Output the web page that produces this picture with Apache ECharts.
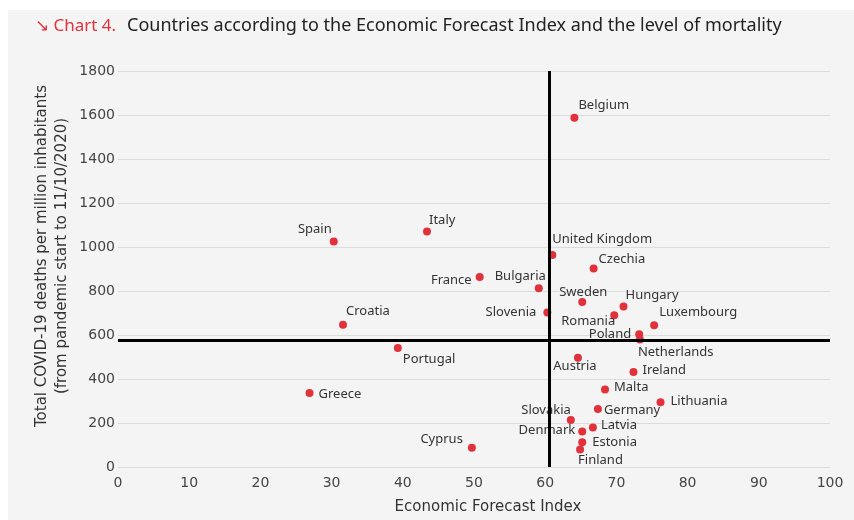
<!DOCTYPE html>
<html>
<head>
<meta charset="utf-8">
<title>Chart 4</title>
<script src="https://cdn.jsdelivr.net/npm/echarts@6/dist/echarts.min.js"></script>
<style>
  html, body { margin: 0; padding: 0; background: #ffffff; }
  #chart {
    width: 854px;
    height: 520px;
    /* grey panel with a thin white margin top and left */
    background: linear-gradient(#f4f4f4, #f4f4f4) no-repeat 8px 10px / 846px 510px, #ffffff;
  }
</style>
</head>
<body>
<div id="chart"></div>
<script>
// data
var countries = ['Belgium', 'Spain', 'Italy', 'United Kingdom', 'Czechia', 'France', 'Bulgaria',
  'Sweden', 'Hungary', 'Slovenia', 'Romania', 'Luxembourg', 'Poland', 'Netherlands', 'Croatia',
  'Portugal', 'Austria', 'Ireland', 'Greece', 'Malta', 'Lithuania', 'Germany', 'Slovakia',
  'Latvia', 'Denmark', 'Estonia', 'Finland', 'Cyprus'];
var forecastIndex = [64.1, 30.3, 43.4, 61.0, 66.8, 50.8, 59.1,
  65.2, 71.0, 60.3, 69.7, 75.3, 73.2, 73.3, 31.6,
  39.3, 64.6, 72.4, 26.9, 68.4, 76.2, 67.4, 63.6,
  66.7, 65.2, 65.2, 64.9, 49.7];
var deaths = [1588, 1025, 1070, 964, 902, 864, 812,
  750, 729, 702, 690, 644, 603, 580, 647,
  541, 497, 432, 336, 352, 294, 264, 214,
  179, 161, 112, 79, 88];
var avgIndex = 60.5;   // vertical black line
var avgDeaths = 574;   // horizontal black line
var xTicks = { min: 0, max: 100, interval: 10 };
var yTicks = { min: 0, max: 1800, interval: 200 };

// where each name sits next to its dot: [dx, dy, align]
var labelPlace = {
  'Belgium': [4, -12, 'left'], 'Spain': [-2, -12, 'right'], 'Italy': [2, -11, 'left'],
  'United Kingdom': [0, -16, 'left'], 'Czechia': [5, -9, 'left'], 'France': [-8, 3, 'right'],
  'Bulgaria': [7, -12, 'right'], 'Sweden': [1, -10, 'center'], 'Hungary': [2, -11, 'left'],
  'Slovenia': [-11, 0, 'right'], 'Romania': [1, 6, 'right'], 'Luxembourg': [5, -13, 'left'],
  'Poland': [-8, 0, 'right'], 'Netherlands': [-2, 13, 'left'], 'Croatia': [3, -13, 'left'],
  'Portugal': [5, 11, 'left'], 'Austria': [-3, 9, 'center'], 'Ireland': [9, -2, 'left'],
  'Greece': [9, 1, 'left'], 'Malta': [9, -2, 'left'], 'Lithuania': [10, -1, 'left'],
  'Germany': [6, 1, 'left'], 'Slovakia': [0, -10, 'right'], 'Latvia': [8, -2, 'left'],
  'Denmark': [-7, -1, 'right'], 'Estonia': [10, 0, 'left'], 'Finland': [-2, 11, 'left'],
  'Cyprus': [-9, -8, 'right']
};

var RED = '#e1313b';
var DOT = 8;

var points = countries.map(function (name, i) {
  var p = labelPlace[name];
  return {
    name: name,
    value: [forecastIndex[i], deaths[i]],
    label: {
      position: [DOT / 2 + p[0], DOT / 2 + p[1]],
      align: p[2],
      verticalAlign: 'middle'
    }
  };
});

var chart = echarts.init(document.getElementById('chart'));
chart.setOption({
  animation: false,
  textStyle: { fontFamily: 'Noto Sans' },
  title: {
    left: 30,
    top: 12,
    text: '{r|↘ Chart 4.}{d|Countries according to the Economic Forecast Index and the level of mortality}',
    textStyle: {
      fontWeight: 'normal',
      rich: {
        r: { color: RED, fontSize: 17, fontWeight: 'normal', fontFamily: 'Noto Sans', padding: [0, 11, 0, 0] },
        d: { color: '#222222', fontSize: 18, fontWeight: 'normal', fontFamily: 'Noto Sans' }
      }
    }
  },
  grid: { left: 118, right: 24, top: 71, bottom: 53 },
  xAxis: {
    type: 'value',
    min: xTicks.min, max: xTicks.max, interval: xTicks.interval,
    axisLine: { show: false },
    axisTick: { show: false },
    splitLine: { show: false },
    axisLabel: { color: '#444', fontSize: 14, fontFamily: 'DejaVu Sans', margin: 9 }
  },
  yAxis: {
    type: 'value',
    min: yTicks.min, max: yTicks.max, interval: yTicks.interval,
    axisLine: { show: false },
    axisTick: { show: false },
    splitLine: { lineStyle: { color: '#dcdcdc', width: 1 } },
    axisLabel: {
      color: '#444', fontSize: 14, fontFamily: 'DejaVu Sans', margin: 3,
      formatter: function (v) { return String(v); }
    }
  },
  graphic: [
    {
      type: 'text', x: 488, y: 507,
      style: {
        text: 'Economic Forecast Index', fill: '#333',
        font: '15px "DejaVu Sans"', align: 'center', verticalAlign: 'middle'
      }
    },
    {
      type: 'text', x: 52, y: 256, rotation: Math.PI / 2,
      style: {
        text: 'Total COVID-19 deaths per million inhabitants\n(from pandemic start to 11/10/2020)',
        fill: '#333', font: '15px "DejaVu Sans"', lineHeight: 20,
        align: 'center', verticalAlign: 'middle'
      }
    }
  ],
  series: [{
    type: 'scatter',
    symbolSize: DOT,
    itemStyle: { color: RED, opacity: 1 },
    label: {
      show: true,
      formatter: '{b}',
      color: '#333333',
      fontSize: 13,
      fontFamily: 'Noto Sans'
    },
    data: points,
    markLine: {
      silent: true,
      symbol: 'none',
      label: { show: false },
      lineStyle: { color: '#000', width: 3, type: 'solid' },
      data: [{ xAxis: avgIndex }, { yAxis: avgDeaths }]
    }
  }]
});
</script>
</body>
</html>
